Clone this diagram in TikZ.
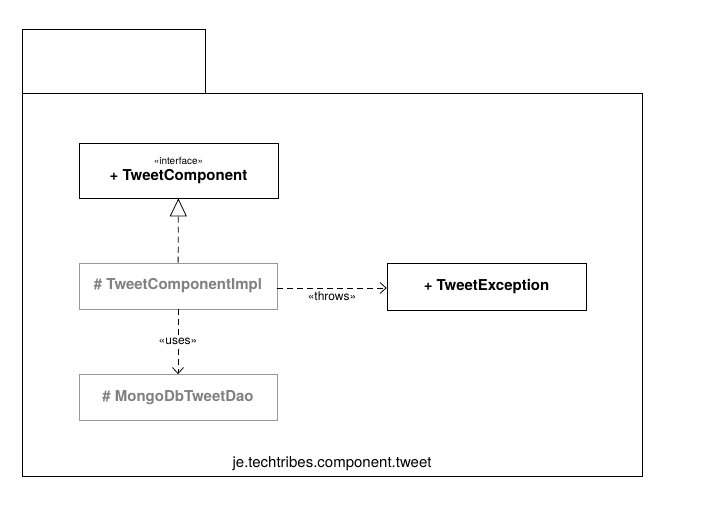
\documentclass[tikz,border=0pt]{standalone}
\usepackage{fontspec}
\setmainfont{TeX Gyre Heros}
\usetikzlibrary{arrows.meta}

\tikzset{
  classbox/.style={draw=black, thick, minimum width=199pt, minimum height=55pt, inner sep=2pt, font=\bfseries\fontsize{15}{17}\selectfont},
  hiddenbox/.style={draw=black!40, thick, minimum width=198pt, minimum height=46pt, text=black!50, font=\bfseries\fontsize{15}{17}\selectfont},
  depends/.style={dash pattern=on 6pt off 4pt, thick, -{Straight Barb[length=6pt,width=11pt]}},
  realizes/.style={dash pattern=on 6pt off 4pt, thick, -{Triangle[open,length=18pt,width=17pt]}},
  stereo/.style={font=\fontsize{12}{13}\selectfont, fill=white, inner sep=1pt}
}

\begin{document}
\begin{tikzpicture}[x=1pt,y=-1pt]
    \useasboundingbox (0,0) rectangle (705,510);
    % Paquet
    \draw[thick] (22,93) -- (22,29) -- (205,29) -- (205,93); % Onglet
    \draw[thick] (22,93) rectangle (642,476); % Corps
    \node[font=\fontsize{15}{17}\selectfont] (pkgName) at (332,464) {je.techtribes.component.tweet};
    % Classes
    \node[classbox, align=center] (tweetComponent) at (178.5,170.5) {{\fontsize{10}{11}\mdseries\selectfont «interface»}\\[-1pt]+ TweetComponent};
    \node[hiddenbox] (tweetComponentImpl) at (178,286) {\# TweetComponentImpl};
    \node[classbox, minimum height=47pt] (tweetException) at (486.5,286.5) {+ TweetException};
    \node[hiddenbox] (mongoDbTweetDao) at (178,397.5) {\# MongoDbTweetDao};
    % Relations
    \draw[realizes] (tweetComponentImpl) -- (tweetComponent);
    \draw[depends] (tweetComponentImpl.east |- 0,288) -- (tweetException.west |- 0,288)
        node[pos=0.5, below=0pt, font=\fontsize{12}{13}\selectfont] {«throws»};
    \draw[depends] (tweetComponentImpl) -- (mongoDbTweetDao) node[pos=0.5, stereo] {«uses»};
\end{tikzpicture}
\end{document}
